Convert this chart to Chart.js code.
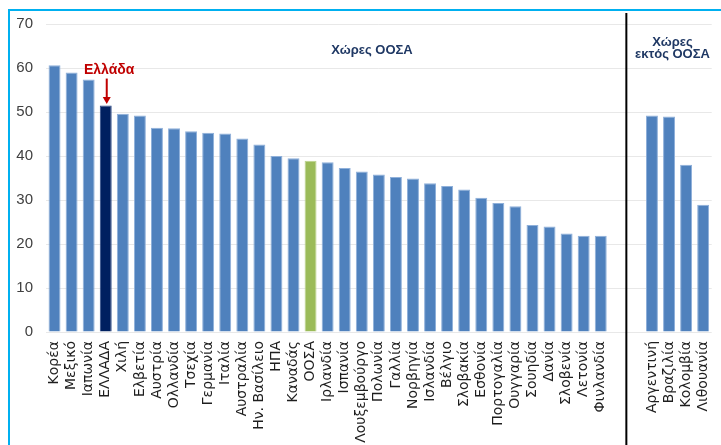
<!DOCTYPE html>
<html>
<head>
<meta charset="utf-8">
<script src="https://cdn.jsdelivr.net/npm/chart.js@4.4.1/dist/chart.umd.min.js"></script>
<style>
  body { margin: 0; background: #fff; }
  canvas { display: block; }
</style>
</head>
<body>
<canvas id="grafima" width="721" height="445"></canvas>
<script>
// χώρες ΟΟΣΑ, δύο κενές θέσεις, χώρες εκτός ΟΟΣΑ
const oecdCountries = ["Κορέα", "Μεξικό", "Ιαπωνία", "ΕΛΛΑΔΑ", "Χιλή", "Ελβετία", "Αυστρία", "Ολλανδία",
    "Τσεχία", "Γερμανία", "Ιταλία", "Αυστραλία", "Ην. Βασίλειο", "ΗΠΑ", "Καναδάς", "ΟΟΣΑ", "Ιρλανδία",
    "Ισπανία", "Λουξεμβούργο", "Πολωνία", "Γαλλία", "Νορβηγία", "Ισλανδία", "Βέλγιο", "Σλοβακία",
    "Εσθονία", "Πορτογαλία", "Ουγγαρία", "Σουηδία", "Δανία", "Σλοβενία", "Λετονία", "Φινλανδία"];
const oecdValues = [60.6, 59.0, 57.4, 51.5, 49.6, 49.2, 46.4, 46.3, 45.6, 45.3, 45.1, 44.0, 42.6, 40.0,
    39.5, 38.9, 38.6, 37.3, 36.5, 35.8, 35.2, 34.9, 33.8, 33.2, 32.4, 30.5, 29.3, 28.6, 24.3, 24.0,
    22.4, 21.9, 21.9];
const otherCountries = ["Αργεντινή", "Βραζιλία", "Κολομβία", "Λιθουανία"];
const otherValues = [49.2, 49.0, 38.0, 28.9];
const gap = ["", ""];
const yTicks = [0, 10, 20, 30, 40, 50, 60, 70];

const labels = oecdCountries.concat(gap, otherCountries);
const values = oecdValues.concat([null, null], otherValues);

const barColors = labels.map(function (l) {
    if (l === "ΕΛΛΑΔΑ") return "#002060";
    if (l === "ΟΟΣΑ") return "#9bbb59";
    return "#4f81bd";
});
const edgeColors = labels.map(function (l) {
    if (l === "ΕΛΛΑΔΑ") return "#2a4a86";
    if (l === "ΟΟΣΑ") return "#bcd38c";
    return "#8fb0da";
});

// πλαίσιο, διαχωριστική γραμμή και σημειώσεις
const extras = {
    id: "extras",
    beforeDraw(chart) {
        const c = chart.ctx;
        c.save();
        c.fillStyle = "#ffffff";
        c.fillRect(0, 0, chart.width, chart.height);
        c.restore();
    },
    afterDraw(chart) {
        const c = chart.ctx;
        const x = chart.scales.x, y = chart.scales.y;
        c.save();
        // γαλάζιο πλαίσιο
        c.strokeStyle = "#00b0f0";
        c.lineWidth = 2;
        c.beginPath();
        c.moveTo(9, chart.height);
        c.lineTo(9, 10);
        c.lineTo(chart.width, 10);
        c.stroke();

        // μαύρη γραμμή ανάμεσα στις ομάδες
        const sepX = (x.getPixelForValue(33) + x.getPixelForValue(34)) / 2;
        c.strokeStyle = "#000";
        c.lineWidth = 2;
        c.beginPath();
        c.moveTo(sepX, 13);
        c.lineTo(sepX, chart.height);
        c.stroke();

        // τίτλοι ομάδων
        c.fillStyle = "#1f3864";
        c.font = "bold 13px 'Liberation Sans', Arial, sans-serif";
        c.textAlign = "center";
        c.textBaseline = "middle";
        c.fillText("Χώρες ΟΟΣΑ", x.getPixelForValue(18.6), y.getPixelForValue(64.1));
        const ox = x.getPixelForValue(36.2);
        c.fillText("Χώρες", ox, y.getPixelForValue(65.9));
        c.fillText("εκτός ΟΟΣΑ", ox, y.getPixelForValue(63.0));

        // Ελλάδα με βέλος
        c.fillStyle = "#c00000";
        c.font = "bold 14px 'Liberation Sans', Arial, sans-serif";
        c.fillText("Ελλάδα", x.getPixelForValue(3.2), y.getPixelForValue(59.4));
        const ax = x.getPixelForValue(3) + 1;
        const top = y.getPixelForValue(57.6), tip = y.getPixelForValue(51.8);
        c.strokeStyle = "#c00000";
        c.lineWidth = 2;
        c.beginPath();
        c.moveTo(ax, top);
        c.lineTo(ax, tip - 5);
        c.stroke();
        c.beginPath();
        c.moveTo(ax - 4, tip - 7);
        c.lineTo(ax + 4, tip - 7);
        c.lineTo(ax, tip);
        c.closePath();
        c.fill();
        c.restore();
    }
};

new Chart(document.getElementById("grafima"), {
    type: 'bar',
    data: {
        labels: labels,
        datasets: [{
            data: values,
            backgroundColor: barColors,
            borderColor: edgeColors,
            borderWidth: 1,
            barPercentage: 0.7,
            categoryPercentage: 1.0
        }]
    },
    options: {
        responsive: false,
        animation: false,
        layout: {
            padding: { top: 24, right: 3, left: 0, bottom: 0 }
        },
        plugins: {
            legend: { display: false },
            tooltip: { enabled: false }
        },
        scales: {
            x: {
                grid: { display: false },
                border: { display: false },
                ticks: {
                    autoSkip: false,
                    maxRotation: 90,
                    minRotation: 90,
                    padding: 1,
                    color: "#1e1e1e",
                    font: { family: "'DejaVu Sans', sans-serif", size: 14 }
                },
                afterFit(scale) { scale.height = 113; }
            },
            y: {
                min: 0,
                max: 70,
                afterBuildTicks(scale) {
                    scale.ticks = yTicks.map(v => ({ value: v }));
                },
                grid: { color: "#e8e8e8", drawTicks: false },
                border: { display: false },
                ticks: {
                    padding: 13,
                    color: "#404040",
                    font: { family: "'Liberation Sans', Arial, sans-serif", size: 15 }
                },
                afterFit(scale) { scale.width = 46; }
            }
        }
    },
    plugins: [extras]
});
</script>
</body>
</html>
